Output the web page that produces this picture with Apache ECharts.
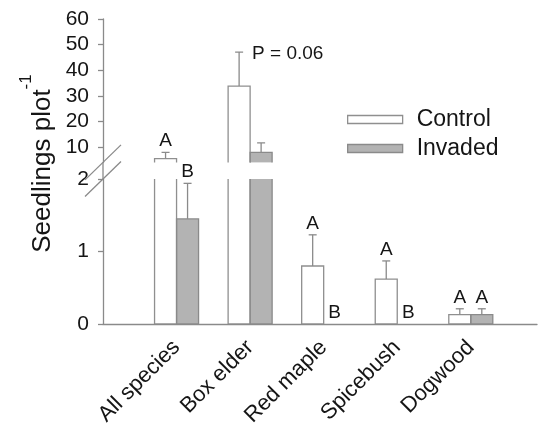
<!DOCTYPE html>
<html><head><meta charset="utf-8">
<script src="https://cdn.jsdelivr.net/npm/echarts@6/dist/echarts.min.js"></script>
<style>html,body{margin:0;padding:0;background:#fff}#c{width:538px;height:431px}</style>
</head><body><div id="c"></div>
<script>
const categories = ['All species','Box elder','Red maple','Spicebush','Dogwood'];
const controlValues = [5.5, 33.8, 0.80, 0.62, 0.13];
const controlErrors = [2.4, 13.3, 0.43, 0.25, 0.08];
const invadedValues = [1.45, 7.9, 0, 0, 0.13];
const invadedErrors = [0.49, 3.7, 0, 0, 0.08];
const controlLetters = ['A','','A','A','A'];
const invadedLetters = ['B','','B','B','A'];
const notes = ['', 'P = 0.06', '', '', ''];
const upperTicks = [10,20,30,40,50,60];
const upperRange = [4, 60];
const lowerRange = [0, 2];

const FONT = '"Liberation Sans", Arial, sans-serif';
const TXT = '#151515';
const AX = '#8a8a8a';
const BAR_W = 22;
const CTRL_FILL = '#ffffff', CTRL_LINE = '#8f8f8f';
const INV_FILL = '#b3b3b3', INV_LINE = '#8a8a8a';

const chart = echarts.init(document.getElementById('c'), null, {renderer:'canvas'});

function barSeries(name, g, vals, color){
  return {name, type:'bar', xAxisIndex:g, yAxisIndex:g, data: vals.map((v,i)=>[i,v]),
    barWidth:BAR_W, barGap:'0%', clip:true, silent:true, animation:false,
    itemStyle:{color, borderWidth:0}};
}
function outlineSeries(g, vals, side, stroke){
  return {type:'custom', xAxisIndex:g, yAxisIndex:g, clip:true, silent:true, z:3, animation:false,
    data: vals.map((v,i)=>[i, v]),
    encode:{x:0, y:1},
    renderItem(params, api){
      if (api.value(1) <= 0) return null;
      const p0 = api.coord([api.value(0), 0]);
      const p1 = api.coord([api.value(0), api.value(1)]);
      const x = side < 0 ? p0[0] - BAR_W : p0[0];
      return {type:'rect', shape:{x:x, y:p1[1], width:BAR_W, height:p0[1]-p1[1]},
        style:{fill:null, stroke, lineWidth:1.3}};
    }};
}
function errSeries(g, vals, errs, side){
  return {type:'custom', xAxisIndex:g, yAxisIndex:g, clip:true, silent:true, z:3, animation:false,
    data: vals.map((v,i)=>[i, v, v+errs[i], errs[i]]),
    encode:{x:0, y:[1,2]},
    renderItem(params, api){
      if (api.value(3) <= 0) return null;
      const p0 = api.coord([api.value(0), api.value(1)]);
      const p1 = api.coord([api.value(0), api.value(2)]);
      const x = p0[0] + side*BAR_W/2;
      return {type:'group', children:[
        {type:'line', shape:{x1:x,y1:p0[1],x2:x,y2:p1[1]}, style:{stroke:AX,lineWidth:1.3}},
        {type:'line', shape:{x1:x-4,y1:p1[1],x2:x+4,y2:p1[1]}, style:{stroke:AX,lineWidth:1.3}}
      ]};
    }};
}
function letterSeries(g, vals, errs, letters, side, range){
  return {type:'custom', xAxisIndex:g, yAxisIndex:g, clip:false, silent:true, z:4, animation:false,
    data: vals.map((v,i)=>[i, v+errs[i]]),
    encode:{x:0, y:1},
    renderItem(params, api){
      const i = params.dataIndex, top = api.value(1);
      if (!letters[i] || top < range[0] || top > range[1]) return null;
      const p = api.coord([api.value(0), top]);
      return {type:'text', x:p[0]+side*BAR_W/2, y:p[1]-2,
        style:{text:letters[i], fill:TXT, fontSize:19, fontFamily:FONT, align:'center', verticalAlign:'bottom'}};
    }};
}
function noteSeries(g, vals, errs, range){
  return {type:'custom', xAxisIndex:g, yAxisIndex:g, clip:false, silent:true, z:4, animation:false,
    data: vals.map((v,i)=>[i, v+errs[i]]),
    encode:{x:0, y:1},
    renderItem(params, api){
      const i = params.dataIndex, top = api.value(1);
      if (!notes[i] || top < range[0] || top > range[1]) return null;
      const p = api.coord([api.value(0), top]);
      return {type:'text', x:p[0]-BAR_W/2+13, y:p[1]+2,
        style:{text:notes[i], fill:TXT, fontSize:19, fontFamily:FONT, align:'left', verticalAlign:'middle'}};
    }};
}

const axisLine = {show:true, onZero:false, lineStyle:{color:AX, width:1.3}};
const yLabel = {color:TXT, fontSize:21, fontFamily:FONT, margin:14};

chart.setOption({
  animation:false,
  grid:[
    {left:103, width:434, top:19, height:143.4},
    {left:103, width:434, top:179, height:145}
  ],
  xAxis:[
    {gridIndex:0, type:'value', min:-1, max:4.9, show:false},
    {gridIndex:1, type:'value', min:-1, max:4.9, interval:1, axisLine,
      axisTick:{show:false}, splitLine:{show:false},
      axisLabel:{rotate:45, margin:20, color:TXT, fontSize:22, fontFamily:FONT, showMaxLabel:false,
        formatter: v => (Number.isInteger(v) && categories[v]) ? categories[v] : ''}}
  ],
  yAxis:[
    {gridIndex:0, type:'value', min:upperRange[0], max:upperRange[1], axisLine,
      axisTick:{show:true, length:5, lineStyle:{color:AX, width:1.3}, customValues:upperTicks},
      axisLabel:Object.assign({customValues:upperTicks}, yLabel), splitLine:{show:false}},
    {gridIndex:1, type:'value', min:lowerRange[0], max:lowerRange[1], interval:1, axisLine,
      axisTick:{show:true, length:5, lineStyle:{color:AX, width:1.3}},
      axisLabel:yLabel, splitLine:{show:false}}
  ],
  legend:{orient:'vertical', left:347, top:108, padding:0, itemWidth:55, itemHeight:8, itemGap:6, icon:'rect',
    selectedMode:false,
    data:[
      {name:'Control', itemStyle:{color:CTRL_FILL, borderColor:CTRL_LINE, borderWidth:1.3}},
      {name:'Invaded', itemStyle:{color:INV_FILL, borderColor:INV_LINE, borderWidth:1.3}}
    ],
    textStyle:{fontSize:23, fontFamily:FONT, color:TXT, padding:[0,0,0,9], lineHeight:23}},
  series:[
    barSeries('Control', 0, controlValues, CTRL_FILL),
    barSeries('Invaded', 0, invadedValues, INV_FILL),
    barSeries('Control', 1, controlValues, CTRL_FILL),
    barSeries('Invaded', 1, invadedValues, INV_FILL),
    outlineSeries(0, controlValues, -1, CTRL_LINE),
    outlineSeries(0, invadedValues, 1, INV_LINE),
    outlineSeries(1, controlValues, -1, CTRL_LINE),
    outlineSeries(1, invadedValues, 1, INV_LINE),
    errSeries(0, controlValues, controlErrors, -1),
    errSeries(0, invadedValues, invadedErrors, 1),
    errSeries(1, controlValues, controlErrors, -1),
    errSeries(1, invadedValues, invadedErrors, 1),
    letterSeries(0, controlValues, controlErrors, controlLetters, -1, upperRange),
    letterSeries(0, invadedValues, invadedErrors, invadedLetters, 1, upperRange),
    letterSeries(1, controlValues, controlErrors, controlLetters, -1, lowerRange),
    letterSeries(1, invadedValues, invadedErrors, invadedLetters, 1, lowerRange),
    noteSeries(0, controlValues, controlErrors, upperRange)
  ]
});

const pUp = chart.convertToPixel({gridIndex:0}, [-1, upperRange[0]]);
const pLo = chart.convertToPixel({gridIndex:1}, [-1, lowerRange[1]]);
const brk = (c) => ({type:'line', silent:true, z:10,
  shape:{x1:c[0]-18, y1:c[1]+17.5, x2:c[0]+18, y2:c[1]-17.5}, style:{stroke:AX, lineWidth:1.3}});
chart.setOption({graphic:[
  {type:'line', silent:true, shape:{x1:pUp[0], y1:pUp[1], x2:pLo[0], y2:pLo[1]}, style:{stroke:AX, lineWidth:1.3}},
  brk(pUp), brk(pLo),
  {type:'text', x:41, y:163.5, rotation:Math.PI/2, silent:true,
    style:{text:'{m|Seedlings plot}{s|-1}', align:'center', verticalAlign:'middle',
      rich:{m:{fontSize:26, fontFamily:FONT, fill:TXT, lineHeight:29, verticalAlign:'bottom'},
            s:{fontSize:17, fontFamily:FONT, fill:TXT, lineHeight:17, padding:[0,0,21,0], verticalAlign:'bottom'}}}}
]});
</script></body></html>
